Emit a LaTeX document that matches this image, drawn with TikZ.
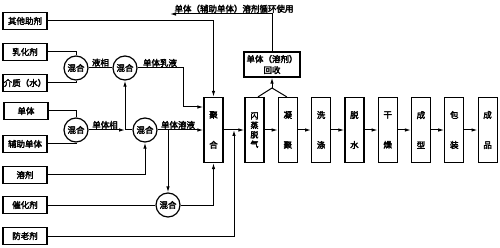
\documentclass[tikz,border=0pt]{standalone}
\usepackage{fontspec}
\setmainfont{Noto Sans CJK SC}[AutoFakeBold=3]
\usetikzlibrary{arrows.meta}

\begin{document}
\begin{tikzpicture}[x=1pt,y=-1pt,
  srcbox/.style={draw,line width=1.2pt,minimum width=44pt,minimum height=17pt,inner sep=0.5pt,font=\fontsize{8.5}{10}\selectfont\bfseries},
  mixer/.style={draw,circle,line width=1.2pt,minimum size=24pt,inner sep=0pt,font=\fontsize{8.5}{10}\selectfont\bfseries},
  stagebox/.style={draw,line width=1.2pt,minimum width=19pt,minimum height=65pt,inner sep=0pt,align=center,font=\fontsize{8.5}{10}\selectfont\bfseries},
  flow/.style={line width=1pt,-{Latex[length=6pt,width=3.5pt]}},
  pipe/.style={line width=1pt},
  tag/.style={anchor=south,inner sep=1pt,font=\fontsize{8.5}{10}\selectfont\bfseries}]
\path[use as bounding box] (0,0) rectangle (500,248);
\node[srcbox] (other) at (25,21) {其他助剂};
\node[srcbox] (emul) at (25,52) {乳化剂};
\node[srcbox] (medium) at (25,83) {介质（水）};
\node[srcbox] (mono) at (26,111) {单体};
\node[srcbox] (comono) at (25,144) {辅助单体};
\node[srcbox] (solv) at (25,175) {溶剂};
\node[srcbox] (cat) at (25,205) {催化剂};
\node[srcbox] (antiox) at (25,236) {防老剂};
\node[mixer] (mixA) at (76,68) {混合};
\node[mixer] (mixB) at (125,68) {混合};
\node[mixer] (mixC) at (76,130) {混合};
\node[mixer] (mixD) at (145,130) {混合};
\node[mixer] (mixE) at (168,205) {混合};
\node[stagebox] (poly) at (213.5,130) {聚\\[20pt]合};
\node[stagebox,font=\fontsize{8}{9.5}\selectfont\bfseries] (flash) at (254.5,130) {闪\\蒸\\脱\\气};
\node[stagebox] (coag) at (287.8,130) {凝\\[20pt]聚};
\node[stagebox] (wash) at (321.1,130) {洗\\[20pt]涤};
\node[stagebox] (dewater) at (354.4,130) {脱\\[20pt]水};
\node[stagebox] (dry) at (387.7,130) {干\\[20pt]燥};
\node[stagebox] (mould) at (421,130) {成\\[20pt]型};
\node[stagebox] (pack) at (454.3,130) {包\\[20pt]装};
\node[stagebox] (product) at (487.6,130) {成\\[20pt]品};
\node[draw,line width=1.2pt,minimum width=56pt,minimum height=25pt,inner sep=0pt,align=center,font=\fontsize{8.5}{11}\selectfont\bfseries] (rec) at (272,64.5) {单体（溶剂）\\回收};
\coordinate (embend) at (183,107);
\coordinate (mtee) at (125,130);
\coordinate (stee) at (168,130);
\coordinate (atee) at (234,130);
\coordinate (rtee) at (272,88);
\coordinate (rback) at (170,14);
\draw[flow] (other.east) -| (poly.north);
\draw[pipe] (emul.east) -| (mixA.north);
\draw[pipe] (medium.east) -| (mixA.south);
\draw[pipe] (mono.east) -| (mixC.north);
\draw[pipe] (comono.east) -| (mixC.south);
\draw[pipe] (mixA) -- (mixB) node[tag,midway] (lqlabel) {液相};
\draw[flow] (mixB.east) -| (embend) -- (embend -| poly.west);
\node[tag] (emlabel) at (160,68) {单体乳液};
\draw[flow] (mixC) -- (mtee);
\draw[pipe] (mtee) -- (mixD);
\draw[flow] (mtee) -- (mixB.south);
\node[tag] (mplabel) at (105,130) {单体相};
\draw[flow] (mixD.east) -- (poly.west);
\node[tag] (mslabel) at (178,130) {单体溶液};
\draw[flow] (stee) -- (mixE.north);
\draw[flow] (solv.east) -| (mixD.south);
\draw[pipe] (cat.east) -- (mixE.west);
\draw[flow] (mixE.east) -| (poly.south);
\draw[flow] (antiox.east) -| (atee);
\draw[flow] (poly.east) -- (flash.west);
\draw[flow] (flash) -- (coag);
\draw[flow] (coag) -- (wash);
\draw[flow] (wash) -- (dewater);
\draw[flow] (dewater) -- (dry);
\draw[flow] (dry) -- (mould);
\draw[flow] (mould) -- (pack);
\draw[flow] (pack) -- (product);
\draw[pipe] ([xshift=3.5pt]flash.north) -- (rtee);
\draw[pipe] ([xshift=-1pt]coag.north) -- (rtee);
\draw[flow] (rtee) -- (rec.south);
\draw[flow] (rec.north) |- (rback);
\node[tag] (rclabel) at (234,14) {单体（辅助单体）溶剂循环使用};
\end{tikzpicture}
\end{document}
